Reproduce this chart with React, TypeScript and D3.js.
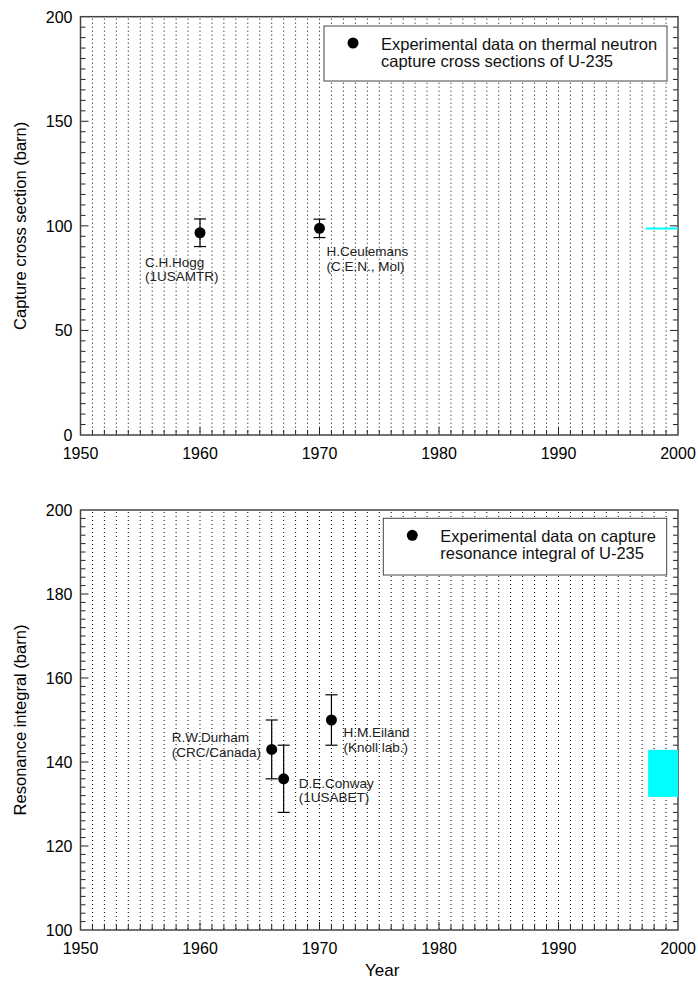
import React, { useEffect, useRef } from "react";
import * as d3 from "d3";

// top panel: thermal capture cross section
const thermalYears = [1960, 1970];
const thermalValues = [96.7, 98.8];
const thermalErrors = [6.6, 4.4];
const thermalLabels = [["C.H.Hogg", "(1USAMTR)"], ["H.Ceulemans", "(C.E.N., Mol)"]];
const thermalEval = [98.7]; // evaluated value, cyan line
const thermalEvalYears = [1997.3, 2000];

// bottom panel: resonance integral
const resYears = [1966, 1967, 1971];
const resValues = [143, 136, 150];
const resErrors = [7, 8, 6];
const resLabels = [["R.W.Durham", "(CRC/Canada)"], ["D.E.Conway", "(1USABET)"], ["H.M.Eiland", "(Knoll lab.)"]];
const resEvalRange = [131.7, 142.9];
const resEvalYears = [1997.5, 2000];

const xTicks = [1950, 1960, 1970, 1980, 1990, 2000];
const topYTicks = [0, 50, 100, 150, 200];
const botYTicks = [100, 120, 140, 160, 180, 200];

// label offsets from each point (px)
const thermalOffsets = [[-55, 34], [7, 28]];
const resOffsets = [[-100, -7], [15, 9], [12, 17]];

const FONT = "Arial, 'Liberation Sans', sans-serif";

function App() {
  const ref = useRef<SVGSVGElement>(null);

  useEffect(() => {
    const svg = d3.select(ref.current);
    svg.selectAll("*").remove();

    const left = 80.5, right = 678;
    const x = d3.scaleLinear().domain([1950, 2000]).range([left, right]);

    const drawPanel = (opts: any) => {
      const { top, bottom, yDomain, yTicks, minorStep, yTitle } = opts;
      const y = d3.scaleLinear().domain(yDomain).range([bottom, top]);
      const g = svg.append("g");

      // dotted year grid
      const years = d3.range(1951, 2000);
      g.selectAll(".grid").data(years).enter().append("line")
        .attr("x1", d => x(d)).attr("x2", d => x(d))
        .attr("y1", top + 2).attr("y2", bottom)
        .attr("stroke", "#000").attr("stroke-width", 1)
        .attr("stroke-dasharray", "1,3");

      // x ticks (inward)
      g.selectAll(".xt").data(d3.range(1951, 2000)).enter().append("line")
        .attr("x1", d => x(d)).attr("x2", d => x(d))
        .attr("y1", bottom).attr("y2", d => bottom - (d % 10 === 0 ? 8 : 5))
        .attr("stroke", "#222").attr("stroke-width", 1);

      // y ticks both sides
      const yMinor = d3.range(yDomain[0] + minorStep, yDomain[1], minorStep);
      const isMajor = (d: number) => yTicks.some((t: number) => Math.abs(t - d) < 1e-6);
      g.selectAll(".yl").data(yMinor).enter().append("line")
        .attr("x1", left).attr("x2", d => left + (isMajor(d) ? 8 : 5))
        .attr("y1", d => y(d)).attr("y2", d => y(d))
        .attr("stroke", "#222").attr("stroke-width", 1);
      g.selectAll(".yr").data(yMinor).enter().append("line")
        .attr("x1", right).attr("x2", d => right - (isMajor(d) ? 8 : 5))
        .attr("y1", d => y(d)).attr("y2", d => y(d))
        .attr("stroke", "#222").attr("stroke-width", 1);

      // frame
      g.append("rect")
        .attr("x", left).attr("y", top)
        .attr("width", right - left).attr("height", bottom - top)
        .attr("fill", "none").attr("stroke", "#444").attr("stroke-width", 1.5);

      // tick labels
      g.selectAll(".xl").data(xTicks).enter().append("text")
        .attr("x", d => x(d)).attr("y", bottom + 24)
        .attr("text-anchor", "middle")
        .attr("font-family", FONT).attr("font-size", 16)
        .text(d => d);
      g.selectAll(".ylab").data(yTicks).enter().append("text")
        .attr("x", left - 8).attr("y", d => y(d) + 6)
        .attr("text-anchor", "end")
        .attr("font-family", FONT).attr("font-size", 16)
        .text(d => d);

      // y title
      const cy = (top + bottom) / 2;
      g.append("text")
        .attr("transform", `translate(26,${cy}) rotate(-90)`)
        .attr("text-anchor", "middle")
        .attr("font-family", FONT).attr("font-size", 16.5)
        .text(yTitle);

      return { g, y };
    };

    const drawPoints = (g: any, y: any, years: number[], values: number[], errs: number[], labels: string[][], offsets: number[][]) => {
      years.forEach((yr, i) => {
        const cx = x(yr), v = values[i], e = errs[i];
        g.append("line").attr("x1", cx).attr("x2", cx)
          .attr("y1", y(v + e)).attr("y2", y(v - e))
          .attr("stroke", "#000").attr("stroke-width", 1.2);
        [v + e, v - e].forEach(b => {
          g.append("line").attr("x1", cx - 6).attr("x2", cx + 6)
            .attr("y1", y(b)).attr("y2", y(b))
            .attr("stroke", "#000").attr("stroke-width", 1.2);
        });
        g.append("circle").attr("cx", cx).attr("cy", y(v)).attr("r", 5.5).attr("fill", "#000");
        const t = g.append("text")
          .attr("font-family", FONT).attr("font-size", 13.5).attr("fill", "#222");
        labels[i].forEach((ln, j) => {
          t.append("tspan")
            .attr("x", cx + offsets[i][0])
            .attr("y", y(v) + offsets[i][1] + j * 14.5)
            .text(ln);
        });
      });
    };

    const drawLegend = (g: any, bx: number, by: number, bw: number, bh: number, lines: string[]) => {
      g.append("rect").attr("x", bx).attr("y", by).attr("width", bw).attr("height", bh)
        .attr("fill", "#fff").attr("stroke", "#444").attr("stroke-width", 1);
      g.append("circle").attr("cx", bx + 29).attr("cy", by + 17).attr("r", 5.5).attr("fill", "#000");
      const t = g.append("text").attr("font-family", FONT).attr("font-size", 16.5).attr("fill", "#111");
      lines.forEach((ln, j) => {
        t.append("tspan").attr("x", bx + 57).attr("y", by + 24 + j * 17).text(ln);
      });
    };

    // top panel
    const p1 = drawPanel({ top: 16.7, bottom: 435, yDomain: [0, 200], yTicks: topYTicks, minorStep: 5, yTitle: "Capture cross section (barn)" });
    p1.g.append("line")
      .attr("x1", x(thermalEvalYears[0])).attr("x2", x(thermalEvalYears[1]))
      .attr("y1", p1.y(thermalEval[0])).attr("y2", p1.y(thermalEval[0]))
      .attr("stroke", "#00ffff").attr("stroke-width", 2);
    drawLegend(p1.g, 324, 26, 343, 55, ["Experimental data on thermal neutron", "capture cross sections of U-235"]);
    drawPoints(p1.g, p1.y, thermalYears, thermalValues, thermalErrors, thermalLabels, thermalOffsets);

    // bottom panel
    const p2 = drawPanel({ top: 510, bottom: 930, yDomain: [100, 200], yTicks: botYTicks, minorStep: 2, yTitle: "Resonance integral (barn)" });
    p2.g.append("rect")
      .attr("x", x(resEvalYears[0])).attr("y", p2.y(resEvalRange[1]))
      .attr("width", x(resEvalYears[1]) - x(resEvalYears[0]))
      .attr("height", p2.y(resEvalRange[0]) - p2.y(resEvalRange[1]))
      .attr("fill", "#00ffff");
    drawLegend(p2.g, 383.3, 518.3, 283.4, 56.7, ["Experimental data on capture", "resonance integral of U-235"]);
    drawPoints(p2.g, p2.y, resYears, resValues, resErrors, resLabels, resOffsets);

    svg.append("text")
      .attr("x", x(1975) + 3).attr("y", 976)
      .attr("text-anchor", "middle")
      .attr("font-family", FONT).attr("font-size", 17)
      .text("Year");
  }, []);

  return (
    <svg ref={ref} width={698} height={989}
      style={{ position: "absolute", left: 0, top: 0, background: "#fff" }} />
  );
}

export default App;
